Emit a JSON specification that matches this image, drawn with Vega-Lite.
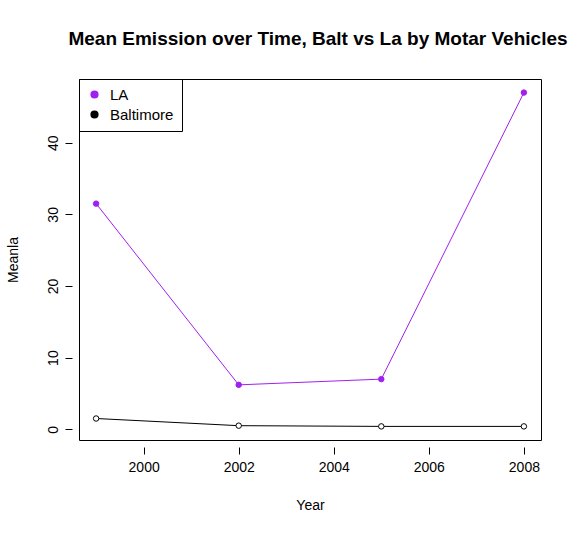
{
  "$schema": "https://vega.github.io/schema/vega-lite/v6.json",
  "width": 462,
  "height": 361,
  "autosize": "none",
  "padding": {"left": 79, "top": 79, "right": 40, "bottom": 98},
  "background": "white",
  "config": {
    "font": "Liberation Sans",
    "view": {"stroke": "black", "strokeWidth": 1},
    "axis": {"grid": false, "domain": false, "tickColor": "black", "tickSize": 7, "labelFontSize": 14, "labelColor": "black", "titleFontSize": 14, "titleFontWeight": "normal", "titleColor": "black", "offset": 7}
  },
  "title": {"text": "Mean Emission over Time, Balt vs La by Motar Vehicles", "fontSize": 19, "fontWeight": "bold", "font": "Liberation Sans", "offset": 30, "anchor": "middle", "dx": 8},
  "data": {"values": [
    {"Year": 1999, "city": "LA", "mean": 31.5},
    {"Year": 2002, "city": "LA", "mean": 6.2},
    {"Year": 2005, "city": "LA", "mean": 7.0},
    {"Year": 2008, "city": "LA", "mean": 47.0},
    {"Year": 1999, "city": "Baltimore", "mean": 1.5},
    {"Year": 2002, "city": "Baltimore", "mean": 0.5},
    {"Year": 2005, "city": "Baltimore", "mean": 0.4},
    {"Year": 2008, "city": "Baltimore", "mean": 0.4}
  ]},
  "encoding": {
    "x": {"field": "Year", "type": "quantitative", "scale": {"domain": [1998.64, 2008.36], "nice": false, "zero": false}, "axis": {"values": [2000, 2002, 2004, 2006, 2008], "format": "d", "labelPadding": 6, "titlePadding": 24}},
    "y": {"field": "mean", "type": "quantitative", "title": "Meanla", "scale": {"domain": [-1.5, 48.9], "nice": false, "zero": false}, "axis": {"values": [0, 10, 20, 30, 40], "labelAngle": -90, "labelAlign": "center", "labelBaseline": "bottom", "labelPadding": 5, "titlePadding": 26}}
  },
  "layer": [
    {
      "mark": {"type": "line", "strokeWidth": 1},
      "encoding": {
        "color": {"field": "city", "type": "nominal", "scale": {"domain": ["LA", "Baltimore"], "range": ["#a020f0", "black"]},
          "legend": {"title": null, "orient": "top-left", "offset": 0, "symbolType": "circle", "symbolSize": 45, "labelFontSize": 15, "labelColor": "black", "strokeColor": "black", "padding": 8, "rowPadding": 4, "labelOffset": 8,
            "encode": {"symbols": {"update": {"fill": {"signal": "datum.value === 'LA' ? '#a020f0' : 'black'"}}}}}},
        "detail": {"field": "city"}
      }
    },
    {
      "mark": {"type": "point", "filled": false, "size": 30, "strokeWidth": 1, "opacity": 1},
      "encoding": {
        "fill": {"field": "city", "type": "nominal", "scale": {"domain": ["LA", "Baltimore"], "range": ["#a020f0", "white"]}, "legend": null},
        "stroke": {"field": "city", "type": "nominal", "scale": {"domain": ["LA", "Baltimore"], "range": ["#a020f0", "black"]}, "legend": null}
      }
    }
  ],
  "resolve": {"scale": {"color": "independent", "fill": "independent", "stroke": "independent"}}
}
